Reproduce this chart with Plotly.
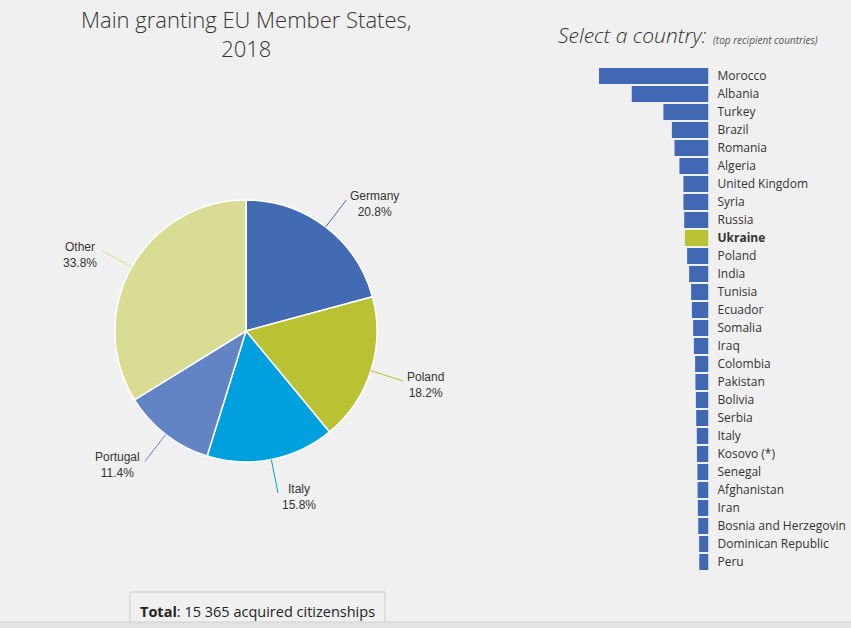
import numpy as np
import plotly.graph_objects as go

W, H = 851, 628

# ---------------- data ----------------
pie_labels = ["Germany", "Poland", "Italy", "Portugal", "Other"]
pie_values = [20.8, 18.2, 15.8, 11.4, 33.8]
pie_colors = ["#426bb4", "#b9c232", "#00a0df", "#6283c4", "#d9dc93"]

countries = ["Morocco", "Albania", "Turkey", "Brazil", "Romania", "Algeria",
             "United Kingdom", "Syria", "Russia", "Ukraine", "Poland", "India",
             "Tunisia", "Ecuador", "Somalia", "Iraq", "Colombia", "Pakistan",
             "Bolivia", "Serbia", "Italy", "Kosovo (*)", "Senegal", "Afghanistan",
             "Iran", "Bosnia and Herzegovin", "Dominican Republic", "Peru"]
citizenships = [71200, 49900, 29300, 23800, 22100, 18900, 16300, 16300, 15800,
                15365, 13900, 12600, 11300, 10800, 10000, 9500, 8700, 8500,
                8200, 8000, 7600, 7500, 7200, 7100, 6900, 6700, 6100, 6000]
selected = "Ukraine"
total_text = "15 365"

BLUE = "#4169b3"
GREEN = "#b9c232"
TXT = "#333333"

def px(x):
    return x / W

def py(y):
    return 1 - y / H

fig = go.Figure()

# ---------------- pie ----------------
cx, cy, r = 246, 331, 131
fig.add_trace(go.Pie(
    labels=pie_labels, values=pie_values, sort=False, direction="clockwise",
    rotation=0, textinfo="none", hoverinfo="label+percent",
    marker=dict(colors=pie_colors, line=dict(color="#ffffff", width=1.5)),
    domain=dict(x=[px(cx - r), px(cx + r)], y=[py(cy + r), py(cy - r)]),
    showlegend=False,
))

shapes = []
annotations = []
vals = np.array(pie_values, dtype=float)
cum = np.cumsum(vals) - vals / 2
for lab, v, c, mid in zip(pie_labels, pie_values, pie_colors, cum / vals.sum()):
    ang = 2 * np.pi * mid
    sx, sy = cx + r * np.sin(ang), cy - r * np.cos(ang)
    ex, ey = cx + (r + 34) * np.sin(ang), cy - (r + 34) * np.cos(ang)
    shapes.append(dict(type="line", xref="paper", yref="paper",
                       x0=px(sx), y0=py(sy), x1=px(ex), y1=py(ey),
                       line=dict(color=c, width=1)))
    right = np.sin(ang) >= 0
    annotations.append(dict(
        xref="paper", yref="paper",
        x=px(ex + (2 if right else -3)), y=py(ey + 4),
        xanchor="left" if right else "right", yanchor="middle",
        text=f"{lab}<br>{v:.1f}%", showarrow=False, align="center",
        font=dict(family="Liberation Sans, Arial", size=12, color=TXT)))

# ---------------- bars ----------------
bar_colors = [GREEN if c == selected else BLUE for c in countries]
ticktext = [f"<b>{c}</b>" if c == selected else c for c in countries]
fig.add_trace(go.Bar(
    x=citizenships, y=countries, orientation="h",
    marker=dict(color=bar_colors, line=dict(width=0)),
    xaxis="x", yaxis="y", showlegend=False,
    hovertemplate="%{y}: %{x}<extra></extra>",
))

top_y, step = 67, 18
n = len(countries)
fig.update_layout(
    xaxis=dict(domain=[px(599), px(708.5)], range=[max(citizenships), 0],
               visible=False, fixedrange=True),
    yaxis=dict(domain=[py(top_y + n * step), py(top_y)], anchor="x",
               side="right", autorange="reversed", type="category",
               tickmode="array", tickvals=countries, ticktext=ticktext,
               showgrid=False, zeroline=False, showline=False, ticks="",
               ticklabelstandoff=8,
               tickfont=dict(family="Open Sans", size=12, color=TXT)),
    bargap=0.11,
)

# ---------------- texts ----------------
annotations += [
    dict(xref="paper", yref="paper", x=px(246), y=py(33), xanchor="center",
         yanchor="middle", showarrow=False, align="center",
         text="Main granting EU Member States,<br>2018",
         font=dict(family="Open Sans", size=22, color=TXT, weight=300)),
    dict(xref="paper", yref="paper", x=px(708), y=py(35), xanchor="right",
         yanchor="middle", showarrow=False,
         text="<i>Select a country:</i>",
         font=dict(family="Open Sans", size=21, color=TXT, weight=300)),
    dict(xref="paper", yref="paper", x=px(711), y=py(40), xanchor="left",
         yanchor="middle", showarrow=False,
         text="<i>(top recipient countries)</i>",
         font=dict(family="Open Sans", size=10, color="#555555")),
    dict(xref="paper", yref="paper", x=px(257), y=py(611), xanchor="center",
         yanchor="middle", showarrow=False,
         text=f"<b>Total</b>: {total_text} acquired citizenships",
         font=dict(family="Open Sans", size=14.5, color="#222222")),
]

shapes += [
    dict(type="rect", xref="paper", yref="paper", x0=px(130), x1=px(385),
         y0=py(640), y1=py(592), line=dict(color="#cccccc", width=1),
         fillcolor="#f0f0f0", layer="below"),
    dict(type="rect", xref="paper", yref="paper", x0=0, x1=1,
         y0=0, y1=py(622), line=dict(width=0), fillcolor="#e3e3e3"),
    dict(type="line", xref="paper", yref="paper", x0=0, x1=1,
         y0=py(622), y1=py(622), line=dict(color="#d2d2d2", width=1)),
]

fig.update_layout(
    width=W, height=H, margin=dict(l=0, r=0, t=0, b=0),
    paper_bgcolor="#f0f0f0", plot_bgcolor="#f0f0f0",
    shapes=shapes, annotations=annotations,
)

fig.write_html("out.html", config={"displayModeBar": False},
               post_script="document.body.style.margin='0';"
                           "document.body.style.background='#f0f0f0';")
